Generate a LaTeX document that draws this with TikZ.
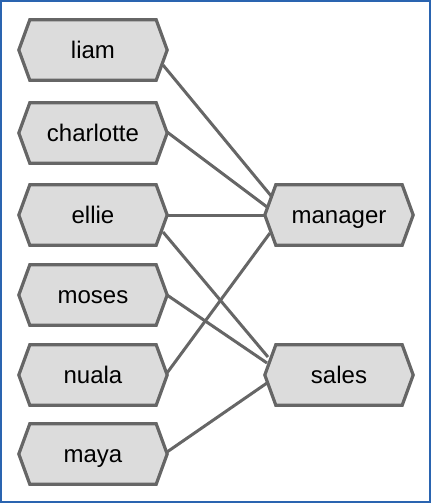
\documentclass[tikz,border=0pt]{standalone}
\usepackage{fontspec}
\setmainfont{Liberation Sans}
\definecolor{nodefill}{HTML}{DCDCDC}
\definecolor{edgegray}{HTML}{666666}
\definecolor{frameblue}{HTML}{2A64B0}
\pgfdeclarelayer{edgelayer}
\pgfdeclarelayer{hexlayer}
\pgfsetlayers{edgelayer,hexlayer,main}
\tikzset{
  person/.style={rectangle, minimum width=148pt, minimum height=60pt, inner sep=0pt,
    text height=17pt, text depth=0pt,
    font=\fontsize{24}{26}\selectfont, text=black},
  hex/.style={draw=edgegray, line width=3.2pt, fill=nodefill, line join=miter},
  link/.style={draw=edgegray, line width=3pt}
}
\begin{document}
\begin{tikzpicture}[x=1pt,y=-1pt]
\useasboundingbox (0,0) rectangle (431,503);
\draw[frameblue, line width=1.3pt] (0.9,0.9) rectangle (430.1,502.1);
\node[person] (liam) at (93,50) {liam};
\node[person] (charlotte) at (93,133) {charlotte};
\node[person] (ellie) at (93,215) {ellie};
\node[person] (moses) at (93,295) {moses};
\node[person] (nuala) at (93,375) {nuala};
\node[person] (maya) at (93,454) {maya};
\node[person] (manager) at (339,215) {manager};
\node[person] (sales) at (339,375) {sales};
\begin{pgfonlayer}{hexlayer}
\foreach \n in {liam,charlotte,ellie,moses,nuala,maya,manager,sales}
  \draw[hex] (\n.west) -- ([xshift=11pt]\n.north west) -- ([xshift=-11pt]\n.north east)
    -- (\n.east) -- ([xshift=-11pt]\n.south east) -- ([xshift=11pt]\n.south west) -- cycle;
\end{pgfonlayer}
\begin{pgfonlayer}{edgelayer}
\draw[link] ([shift={(70,15)}]liam.center) -- ([shift={(-67,-18)}]manager.center);
\draw[link] ([shift={(74,-1)}]charlotte.center) -- ([shift={(-72,-8)}]manager.center);
\draw[link] ([shift={(74,0)}]ellie.center) -- ([shift={(-74,0)}]manager.center);
\draw[link] ([shift={(74,-2)}]nuala.center) -- ([shift={(-69,18)}]manager.center);
\draw[link] ([shift={(70,17)}]ellie.center) -- ([shift={(-71,-18)}]sales.center);
\draw[link] ([shift={(74,0)}]moses.center) -- ([shift={(-72,-12)}]sales.center);
\draw[link] ([shift={(74,-2)}]maya.center) -- ([shift={(-72,8)}]sales.center);
\end{pgfonlayer}
\end{tikzpicture}
\end{document}
